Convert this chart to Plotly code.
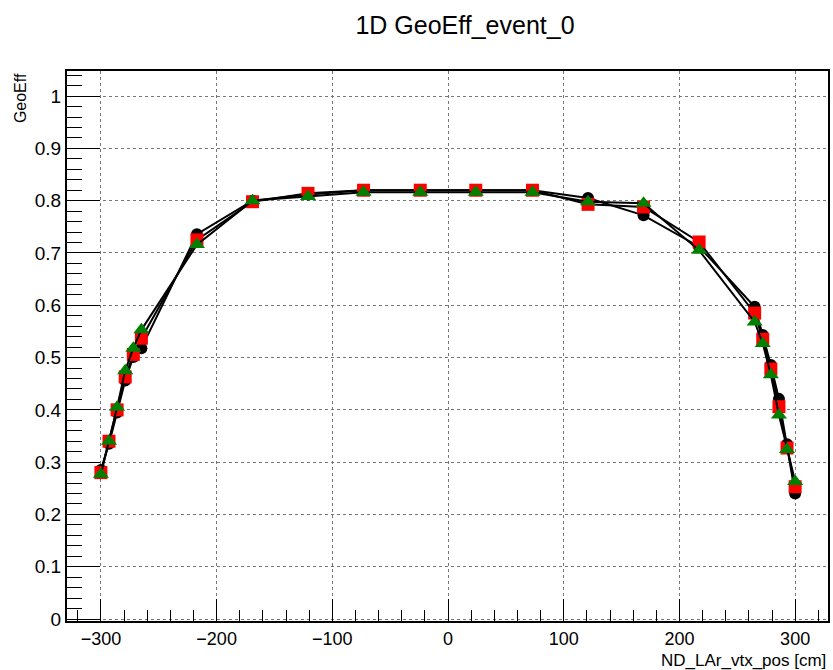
import plotly.graph_objects as go

# x positions (cm)
x_pos = [-300, -293, -286, -279, -272, -265, -217, -169, -121, -73, -24,
         24, 73, 121, 169, 217, 265, 272, 279, 286, 293, 300]

# GeoEff values for three series
eff_black = [0.285, 0.335, 0.395, 0.456, 0.501, 0.518, 0.736, 0.800, 0.812, 0.820, 0.820,
             0.820, 0.820, 0.805, 0.772, 0.712, 0.597, 0.543, 0.486, 0.421, 0.334, 0.240]
eff_red = [0.280, 0.340, 0.400, 0.463, 0.506, 0.537, 0.725, 0.798, 0.814, 0.820, 0.820,
           0.820, 0.820, 0.793, 0.788, 0.721, 0.585, 0.535, 0.478, 0.406, 0.327, 0.253]
eff_green = [0.277, 0.340, 0.405, 0.475, 0.518, 0.553, 0.716, 0.800, 0.808, 0.816, 0.816,
             0.816, 0.816, 0.798, 0.795, 0.705, 0.568, 0.527, 0.467, 0.390, 0.324, 0.263]

title_text = "1D GeoEff_event_0"
x_title = "ND_LAr_vtx_pos [cm]"
y_title = "GeoEff"

FONT = "Liberation Sans, Arial, sans-serif"

fig = go.Figure()
series = [
    (eff_black, "black", "circle", 12),
    (eff_red, "red", "square", 13),
    (eff_green, "green", "triangle-up", 14),
]
for vals, col, sym, sz in series:
    fig.add_trace(go.Scatter(
        x=x_pos, y=vals, mode="lines+markers",
        line=dict(color="black", width=2),
        marker=dict(color=col, symbol=sym, size=sz, line=dict(width=0)),
        showlegend=False,
    ))

fig.update_layout(
    width=833, height=670,
    margin=dict(l=67, r=3, t=71, b=49),
    paper_bgcolor="white", plot_bgcolor="white",
    font=dict(family=FONT, color="black", size=18),
    title=dict(text=title_text, x=465 / 833, xanchor="center",
               y=1 - 25 / 670, yanchor="middle",
               font=dict(family=FONT, size=25, color="black")),
)

fig.update_xaxes(
    range=[-329.3, 328.4], tick0=0, dtick=100,
    ticks="inside", ticklen=22, tickwidth=1, tickcolor="black",
    minor=dict(dtick=20, ticks="inside", ticklen=11, tickwidth=1, tickcolor="black", showgrid=False),
    showline=True, linecolor="black", linewidth=2, mirror=True,
    showgrid=True, gridcolor="#777777", griddash="dot", gridwidth=1,
    zeroline=False,
    tickfont=dict(family=FONT, size=18, color="black"),
)
fig.update_yaxes(
    range=[-0.0038, 1.048], tick0=0, dtick=0.1,
    ticks="inside", ticklen=33, tickwidth=1, tickcolor="black",
    minor=dict(dtick=0.02, ticks="inside", ticklen=15, tickwidth=1, tickcolor="black", showgrid=False),
    showline=True, linecolor="black", linewidth=2, mirror=True,
    showgrid=True, gridcolor="#777777", griddash="dot", gridwidth=1,
    zeroline=False,
    tickfont=dict(family=FONT, size=19, color="black"),
)

fig.add_annotation(
    text=x_title, xref="paper", yref="paper", x=1, y=(621 - 660) / 550,
    xanchor="right", yanchor="middle", showarrow=False,
    font=dict(family=FONT, size=17, color="black"),
)
fig.add_annotation(
    text=y_title, xref="paper", yref="paper", x=(20 - 67) / 763, y=1,
    xanchor="center", yanchor="top", textangle=-90, showarrow=False,
    font=dict(family=FONT, size=16, color="black"),
)

fig.write_html("out.html")
